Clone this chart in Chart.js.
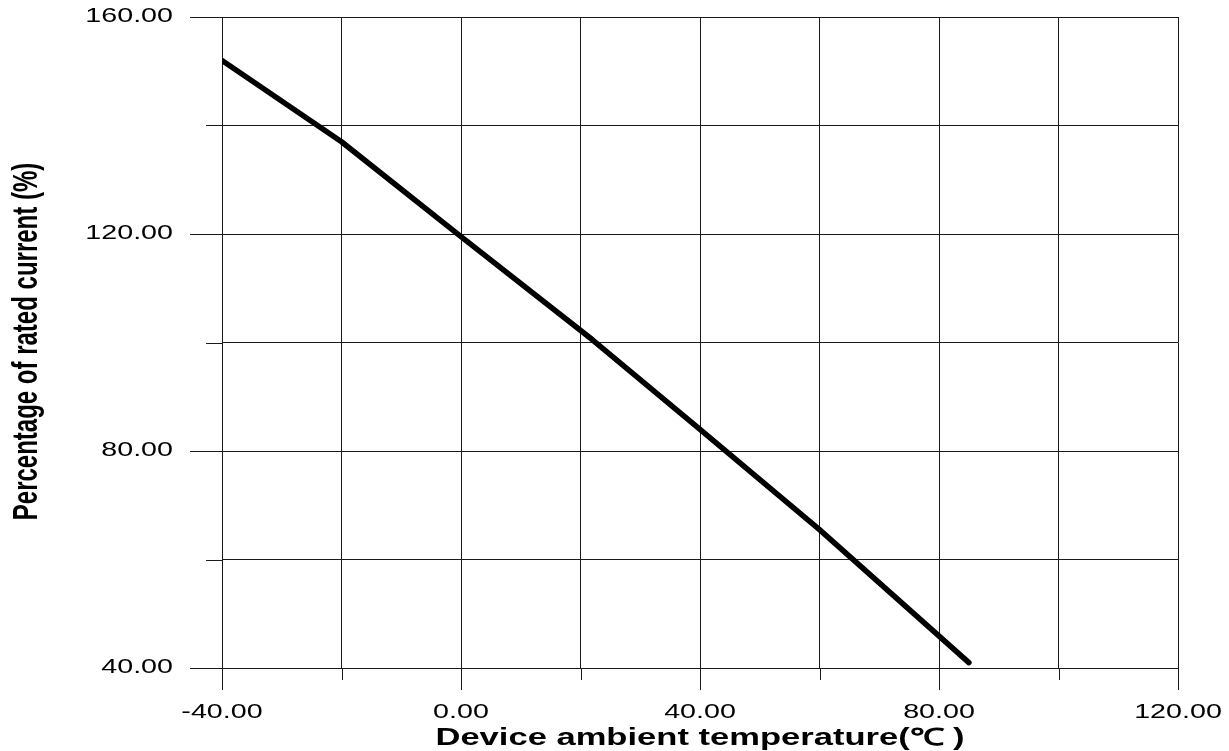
<!DOCTYPE html>
<html>
<head>
<meta charset="utf-8">
<script src="https://cdn.jsdelivr.net/npm/chart.js@4.4.1/dist/chart.umd.min.js"></script>
<style>
  html, body { margin: 0; padding: 0; background: #fff; }
  #wrap { width: 1229px; height: 751px; position: relative; }
</style>
</head>
<body>
<div id="wrap"><canvas id="deratingChart"></canvas></div>
<script>
// derating curve
const temperatures = [-40, -20, 0, 22, 40, 60, 85];
const ratedPercent = [152, 137, 119.5, 100.5, 84, 65.5, 41];

// labelled ticks (the other grid lines are unlabelled)
const xLabelTicks = [-40, 0, 40, 80, 120];
const yLabelTicks = [40, 80, 120, 160];

const xTitle = 'Device ambient temperature(\u2103 )';
const yTitle = 'Percentage of rated current (%)';

// the source picture is stretched sideways, text is drawn the same way
const STRETCH = 1.47;
const FONT = "'Liberation Sans', Arial, sans-serif";

const axisTextPlugin = {
    id: 'axisText',
    afterDraw(chart) {
        const ctx = chart.ctx;
        const xs = chart.scales.x;
        const ys = chart.scales.y;
        const area = chart.chartArea;

        ctx.save();
        ctx.strokeStyle = '#1a1a1a';
        ctx.lineWidth = 1;

        // tick marks, long ones at labelled values
        ys.ticks.forEach(t => {
            const y = Math.round(ys.getPixelForValue(t.value)) + 0.5;
            const len = yLabelTicks.includes(t.value) ? 32 : 16;
            ctx.beginPath();
            ctx.moveTo(area.left - len, y);
            ctx.lineTo(area.left, y);
            ctx.stroke();
        });
        xs.ticks.forEach(t => {
            const x = Math.round(xs.getPixelForValue(t.value)) + 0.5;
            const len = xLabelTicks.includes(t.value) ? 22 : 12;
            ctx.beginPath();
            ctx.moveTo(x, area.bottom);
            ctx.lineTo(x, area.bottom + len);
            ctx.stroke();
        });

        ctx.fillStyle = '#000';

        // y tick labels
        ctx.font = '19.5px ' + FONT;
        ctx.textAlign = 'right';
        ctx.textBaseline = 'middle';
        yLabelTicks.forEach(v => {
            ctx.save();
            ctx.translate(area.left - 49, ys.getPixelForValue(v));
            ctx.scale(STRETCH, 1);
            ctx.fillText(v.toFixed(2), 0, 0);
            ctx.restore();
        });

        // x tick labels
        ctx.textAlign = 'center';
        ctx.textBaseline = 'alphabetic';
        xLabelTicks.forEach(v => {
            ctx.save();
            ctx.translate(xs.getPixelForValue(v), area.bottom + 50);
            ctx.scale(STRETCH, 1);
            ctx.fillText(v.toFixed(2), 0, 0);
            ctx.restore();
        });

        // x title
        ctx.font = 'bold 23.5px ' + FONT;
        ctx.save();
        ctx.translate((area.left + area.right) / 2, area.bottom + 77);
        ctx.scale(STRETCH, 1);
        ctx.fillText(xTitle, 0, 0);
        ctx.restore();

        // y title, rotated
        ctx.font = 'bold 24px ' + FONT;
        ctx.save();
        ctx.translate(37, (area.top + area.bottom) / 2 - 1);
        ctx.rotate(-Math.PI / 2);
        ctx.scale(1, STRETCH);
        ctx.fillText(yTitle, 0, 0);
        ctx.restore();

        ctx.restore();
    }
};

const ctx = document.getElementById('deratingChart').getContext('2d');

new Chart(ctx, {
    type: 'line',
    data: {
        datasets: [{
            data: temperatures.map((t, i) => ({ x: t, y: ratedPercent[i] })),
            borderColor: '#000',
            borderWidth: 5.5,
            borderCapStyle: 'round',
            borderJoinStyle: 'round',
            pointRadius: 0,
            tension: 0,
            fill: false
        }]
    },
    options: {
        responsive: true,
        maintainAspectRatio: false,
        animation: false,
        events: [],
        layout: {
            padding: { top: 17, right: 51, left: 0, bottom: 0 }
        },
        scales: {
            x: {
                type: 'linear',
                min: -40,
                max: 120,
                ticks: { display: false, stepSize: 20 },
                grid: { color: '#1a1a1a', lineWidth: 1, drawTicks: false },
                border: { display: false },
                afterFit(scale) { scale.height = 83; }
            },
            y: {
                type: 'linear',
                min: 40,
                max: 160,
                ticks: { display: false, stepSize: 20 },
                grid: { color: '#1a1a1a', lineWidth: 1, drawTicks: false },
                border: { display: false },
                afterFit(scale) { scale.width = 222; }
            }
        },
        plugins: {
            legend: { display: false },
            tooltip: { enabled: false },
            title: { display: false }
        }
    },
    plugins: [axisTextPlugin]
});
</script>
</body>
</html>
